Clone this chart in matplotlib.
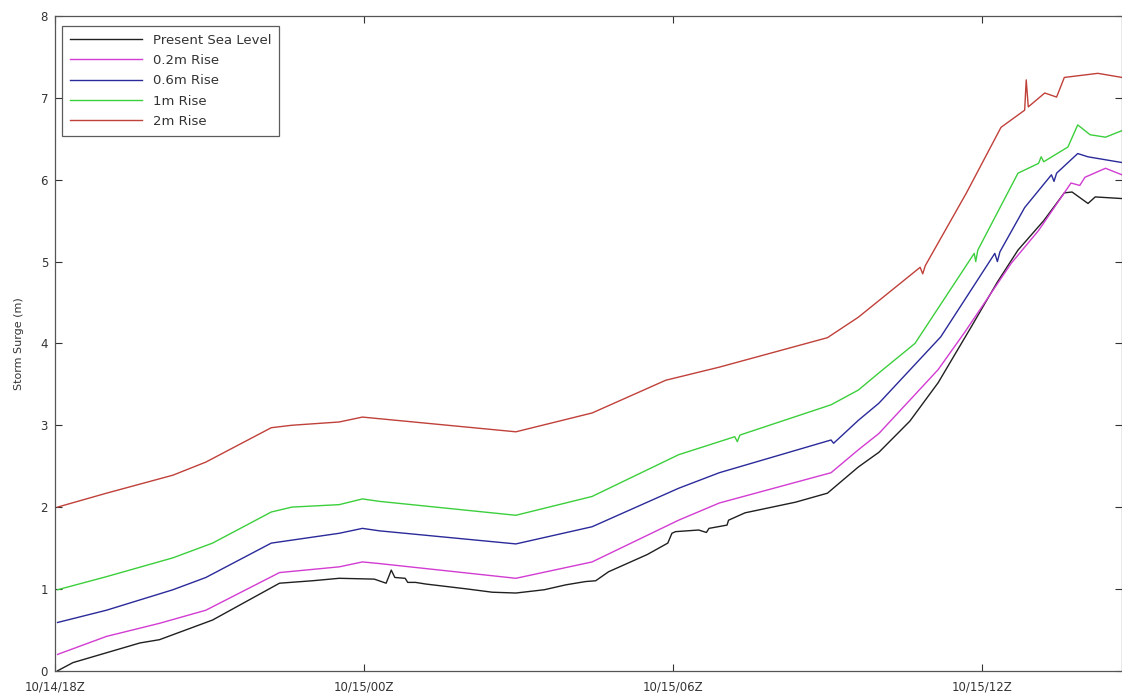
import matplotlib
matplotlib.use('Agg')
import matplotlib.pyplot as plt

# Hours after 10/14 18Z and storm surge (m)
hrsBase = [0.05, 0.35, 1.0, 1.65, 2.03, 3.06, 4.36, 5.0, 5.52, 6.2, 6.43, 6.5, 6.53, 6.6, 6.8, 6.85, 7.0, 7.2,
           8.0, 8.49, 8.95, 9.5, 9.92, 10.3, 10.5, 10.75, 11.5, 11.9, 11.98, 12.05, 12.5, 12.65, 12.7, 13.05, 13.08,
           13.4, 14.38, 15.0, 15.6, 16.0, 16.6, 17.15, 17.79, 18.3, 18.7, 19.2, 19.6, 19.75, 20.06, 20.2, 20.72]
valBase = [0.0, 0.1, 0.22, 0.34, 0.38, 0.62, 1.07, 1.1, 1.13, 1.12, 1.07, 1.18, 1.23, 1.14, 1.13, 1.08, 1.08, 1.06,
           1.0, 0.96, 0.95, 0.99, 1.05, 1.09, 1.1, 1.21, 1.42, 1.56, 1.68, 1.70, 1.72, 1.69, 1.74, 1.78, 1.84,
           1.93, 2.06, 2.17, 2.49, 2.67, 3.05, 3.52, 4.2, 4.75, 5.14, 5.5, 5.84, 5.85, 5.71, 5.79, 5.77]

hrs02 = [0.05, 1.0, 2.03, 2.93, 4.36, 5.52, 5.97, 6.3, 8.95, 10.43, 12.11, 12.9, 15.07, 15.6, 16.0, 17.15, 17.67,
         18.57, 19.1, 19.73, 19.9, 20.0, 20.4, 20.72]
val02 = [0.2, 0.42, 0.58, 0.74, 1.2, 1.27, 1.33, 1.31, 1.13, 1.33, 1.84, 2.05, 2.42, 2.7, 2.9, 3.68, 4.14,
         4.98, 5.38, 5.96, 5.93, 6.03, 6.14, 6.06]

hrs06 = [0.05, 1.0, 2.29, 2.93, 4.2, 5.52, 5.97, 6.3, 8.95, 10.43, 12.11, 12.9, 15.07, 15.12, 15.6, 16.0, 17.2,
         18.25, 18.3, 18.35, 18.83, 19.35, 19.4, 19.45, 19.86, 20.06, 20.72]
val06 = [0.59, 0.74, 0.99, 1.14, 1.56, 1.68, 1.74, 1.71, 1.55, 1.76, 2.23, 2.42, 2.82, 2.78, 3.06, 3.27, 4.08,
         5.1, 5.0, 5.12, 5.66, 6.06, 5.98, 6.08, 6.32, 6.28, 6.21]

hrs1 = [0.05, 1.0, 2.29, 3.06, 4.2, 4.6, 5.52, 5.97, 6.3, 8.95, 10.43, 12.11, 13.2, 13.25, 13.3, 15.07, 15.6,
        16.0, 16.7, 17.85, 17.88, 17.92, 18.7, 19.1, 19.15, 19.2, 19.67, 19.86, 20.1, 20.4, 20.72]
val1 = [0.99, 1.15, 1.38, 1.56, 1.94, 2.0, 2.03, 2.1, 2.07, 1.9, 2.13, 2.64, 2.86, 2.8, 2.88, 3.25, 3.43,
        3.64, 4.0, 5.1, 5.0, 5.14, 6.08, 6.2, 6.28, 6.22, 6.4, 6.67, 6.55, 6.52, 6.6]

hrs2 = [0.05, 1.0, 2.29, 2.93, 4.2, 4.6, 5.52, 5.97, 6.3, 8.95, 10.43, 11.86, 12.9, 15.0, 15.6, 16.8, 16.85,
        16.9, 17.7, 18.37, 18.83, 18.86, 18.9, 19.22, 19.45, 19.6, 20.25, 20.72]
val2 = [2.0, 2.17, 2.39, 2.55, 2.97, 3.0, 3.04, 3.1, 3.08, 2.92, 3.15, 3.55, 3.71, 4.07, 4.32, 4.93, 4.85,
        4.95, 5.84, 6.64, 6.85, 7.22, 6.89, 7.06, 7.01, 7.25, 7.3, 7.25]

seriesLabels = ['Present Sea Level', '0.2m Rise', '0.6m Rise', '1m Rise', '2m Rise']
seriesColors = ['#202020', '#d23cd2', '#2a2a9a', '#3ccf3c', '#c0403a']
tickHours = [0, 6, 12, 18]
tickLabels = ['10/14/18Z', '10/15/00Z', '10/15/06Z', '10/15/12Z']

fig = plt.figure(figsize=(11.22, 6.98), dpi=100)
ax = fig.add_axes([0.049, 0.039, 0.951, 0.938])

allSeries = [(hrsBase, valBase), (hrs02, val02), (hrs06, val06), (hrs1, val1), (hrs2, val2)]
for (hx, hy), lab, col in zip(allSeries, seriesLabels, seriesColors):
    ax.plot(hx, hy, color=col, lw=1.0, label=lab)

ax.set_xlim(0, 20.72)
ax.set_ylim(0, 8)
ax.set_xticks(tickHours)
ax.set_xticklabels(tickLabels, fontsize=8.5, color='#333333')
ax.set_yticks(range(0, 9))
ax.tick_params(axis='y', labelsize=8.5, labelcolor='#333333', pad=5)
ax.tick_params(axis='x', pad=7)
ax.tick_params(direction='in', length=5, width=0.8, top=True, right=True, color='#333333')
for s in ax.spines.values():
    s.set_color('#555555')
    s.set_linewidth(0.9)
ax.set_ylabel('Storm Surge (m)', fontsize=8, color='#333333', labelpad=12)

leg = ax.legend(loc='upper left', bbox_to_anchor=(0.0065, 0.985), fontsize=9.5, frameon=True, fancybox=False,
                handlelength=5.5, handletextpad=0.8, borderpad=0.6, labelspacing=0.55, borderaxespad=0.0)
leg.get_frame().set_edgecolor('#333333')
leg.get_frame().set_linewidth(0.9)
for t in leg.get_texts():
    t.set_color('#333333')

plt.savefig('out.png', dpi=100)
